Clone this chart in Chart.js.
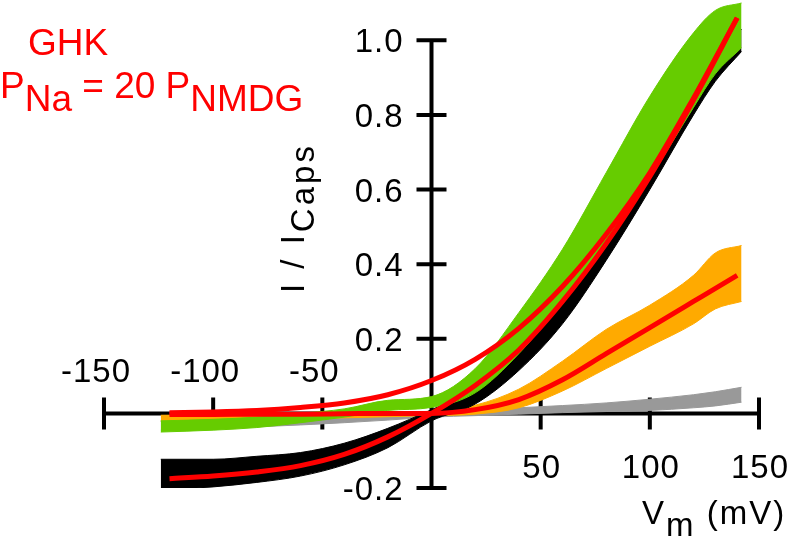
<!DOCTYPE html>
<html>
<head>
<meta charset="utf-8">
<script src="https://cdn.jsdelivr.net/npm/chart.js@4"></script>
<style>
  html, body { margin: 0; padding: 0; background: #fff; }
  #wrap { width: 787px; height: 542px; }
</style>
</head>
<body>
<div id="wrap"><canvas id="iv"></canvas></div>
<script>
// membrane potential (mV) where the measured bands were sampled
const bandVolts = [-124, -100, -80, -60, -40, -20, 0, 20, 40, 60, 80, 100, 120, 130, 142];

// measured currents, upper / lower edge of each band (I / ICaps)
const blackHi  = [-0.123, -0.123, -0.115, -0.105, -0.080, -0.040, 0.010, 0.065, 0.165, 0.300, 0.470, 0.660, 0.860, 0.950, 1.030];
const blackLo  = [-0.205, -0.197, -0.185, -0.168, -0.138, -0.092, -0.020, 0.025, 0.115, 0.240, 0.410, 0.600, 0.800, 0.890, 0.970];
const greenHi  = [-0.020, -0.016, -0.010, 0.000, 0.012, 0.035, 0.045, 0.120, 0.270, 0.440, 0.645, 0.850, 1.020, 1.080, 1.100];
const greenLo  = [-0.050, -0.045, -0.038, -0.025, -0.010, 0.008, 0.016, 0.055, 0.160, 0.300, 0.460, 0.630, 0.820, 0.910, 0.980];
const orangeHi = [-0.005, -0.004, -0.003, -0.002, 0.000, 0.003, 0.006, 0.022, 0.065, 0.140, 0.225, 0.290, 0.370, 0.430, 0.450];
const orangeLo = [-0.020, -0.018, -0.016, -0.014, -0.012, -0.009, -0.006, -0.002, 0.015, 0.060, 0.120, 0.180, 0.240, 0.280, 0.300];
const grayHi   = [-0.022, -0.019, -0.015, -0.012, -0.008, -0.003, 0.004, 0.010, 0.015, 0.021, 0.028, 0.038, 0.050, 0.058, 0.070];
const grayLo   = [-0.045, -0.040, -0.036, -0.031, -0.025, -0.018, -0.010, -0.006, -0.002, 0.002, 0.005, 0.008, 0.015, 0.020, 0.030];

// GHK fits (red)
const fitVolts  = [-120, -100, -80, -60, -40, -20, 0, 20, 40, 60, 80, 100, 120, 140];
const fitBlack  = [-0.175, -0.168, -0.157, -0.140, -0.110, -0.063, 0.000, 0.075, 0.170, 0.300, 0.455, 0.635, 0.840, 1.060];
const fitNMDG   = [0.002, 0.004, 0.008, 0.016, 0.028, 0.050, 0.088, 0.145, 0.228, 0.340, 0.480, 0.645, 0.845, 1.060];
const fitOrange = [-0.003, -0.003, -0.002, -0.002, -0.001, 0.000, 0.000, 0.010, 0.037, 0.090, 0.160, 0.230, 0.300, 0.370];

const xTicks = [-150, -100, -50, 50, 100, 150];
const xTickLabels = ['-150', '-100', '-50', '50', '100', '150'];
const yTicks = [-0.2, 0.2, 0.4, 0.6, 0.8, 1.0];
const yTickLabels = ['-0.2', '0.2', '0.4', '0.6', '0.8', '1.0'];

function pts(xs, ys) {
  return xs.map((x, i) => ({x: x, y: ys[i]}));
}

function band(hi, lo, color) {
  return [
    {data: pts(bandVolts, hi), borderColor: color, backgroundColor: color, borderWidth: 1,
     fill: '+1', pointRadius: 0, tension: 0.4, cubicInterpolationMode: 'monotone'},
    {data: pts(bandVolts, lo), borderColor: color, backgroundColor: color, borderWidth: 1,
     fill: false, pointRadius: 0, tension: 0.4, cubicInterpolationMode: 'monotone'}
  ];
}

function fitLine(ys) {
  return {data: pts(fitVolts, ys), borderColor: '#ff0000', borderWidth: 5, fill: false,
          pointRadius: 0, cubicInterpolationMode: 'monotone'};
}

const FONT = '"Liberation Sans", Arial, sans-serif';

// draws text where some pieces are subscripts
function drawRich(ctx, parts, x, y, size, subDrop) {
  let cx = x;
  parts.forEach(p => {
    ctx.font = size + 'px ' + FONT;
    ctx.fillText(p.t, cx, p.sub ? y + subDrop : y);
    cx += ctx.measureText(p.t).width;
  });
}

const axesPlugin = {
  id: 'crossAxes',
  beforeDatasetsDraw(chart) {
    const ctx = chart.ctx;
    const xs = chart.scales.x, ys = chart.scales.y;
    const x0 = xs.getPixelForValue(0), y0 = ys.getPixelForValue(0);
    ctx.save();
    ctx.strokeStyle = '#000';
    ctx.lineWidth = 4;
    ctx.lineCap = 'butt';
    ctx.beginPath();
    ctx.moveTo(xs.getPixelForValue(-150), y0);
    ctx.lineTo(xs.getPixelForValue(150), y0);
    ctx.moveTo(x0, ys.getPixelForValue(1.0) - 2);
    ctx.lineTo(x0, ys.getPixelForValue(-0.2));
    xTicks.forEach(v => {
      const px = xs.getPixelForValue(v);
      ctx.moveTo(px, y0 - 16);
      ctx.lineTo(px, y0 + 16);
    });
    yTicks.forEach(v => {
      const py = ys.getPixelForValue(v);
      ctx.moveTo(x0 - 15, py);
      ctx.lineTo(x0 + 15, py);
    });
    ctx.stroke();
    ctx.restore();
  },
  afterDraw(chart) {
    const ctx = chart.ctx;
    const xs = chart.scales.x, ys = chart.scales.y;
    const x0 = xs.getPixelForValue(0), y0 = ys.getPixelForValue(0);
    ctx.save();
    ctx.fillStyle = '#000';
    ctx.font = '33px ' + FONT;
    ctx.letterSpacing = '1px';
    ctx.textBaseline = 'alphabetic';

    // y tick labels, right aligned left of the axis
    ctx.textAlign = 'right';
    yTicks.forEach((v, i) => {
      ctx.fillText(yTickLabels[i], x0 - 28, ys.getPixelForValue(v) + 12);
    });
    // x tick labels: negatives above the axis, positives below
    ctx.textAlign = 'center';
    xTicks.forEach((v, i) => {
      const px = xs.getPixelForValue(v);
      const py = v < 0 ? y0 - 31 : y0 + 65;
      ctx.fillText(xTickLabels[i], px - (v < 0 ? 8 : -1), py);
    });

    // axis titles
    ctx.textAlign = 'left';
    ctx.letterSpacing = '2px';
    drawRich(ctx, [{t: 'V'}, {t: 'm', sub: true}, {t: ' (mV)'}], 642, 524, 33, 12);

    ctx.save();
    ctx.letterSpacing = '3px';
    ctx.translate(304, 293);
    ctx.rotate(-Math.PI / 2);
    drawRich(ctx, [{t: 'I / I'}, {t: 'Caps', sub: true}], 0, 0, 33, 10);
    ctx.restore();

    // GHK annotation
    ctx.letterSpacing = '0px';
    ctx.fillStyle = '#ff0000';
    ctx.font = '37px ' + FONT;
    ctx.fillText('GHK', 28, 55);
    drawRich(ctx, [{t: 'P'}, {t: 'Na', sub: true}, {t: ' = 20 P'}, {t: 'NMDG', sub: true}], 0, 98, 37, 13);
    ctx.restore();
  }
};

const datasets = [
  fitLine(fitBlack),
  fitLine(fitNMDG),
  fitLine(fitOrange),
  ...band(greenHi, greenLo, '#66cc00'),
  ...band(blackHi, blackLo, '#000000'),
  ...band(orangeHi, orangeLo, '#ffaa00'),
  ...band(grayHi, grayLo, '#999999')
];

new Chart(document.getElementById('iv'), {
  type: 'line',
  data: {datasets: datasets},
  options: {
    responsive: true,
    maintainAspectRatio: false,
    animation: false,
    layout: {padding: {left: 104, right: 28, top: 0, bottom: 54}},
    scales: {
      x: {type: 'linear', min: -150, max: 150, display: false},
      y: {type: 'linear', min: -0.2, max: 1.108, display: false}
    },
    plugins: {
      legend: {display: false},
      tooltip: {enabled: false}
    }
  },
  plugins: [axesPlugin]
});
</script>
</body>
</html>
